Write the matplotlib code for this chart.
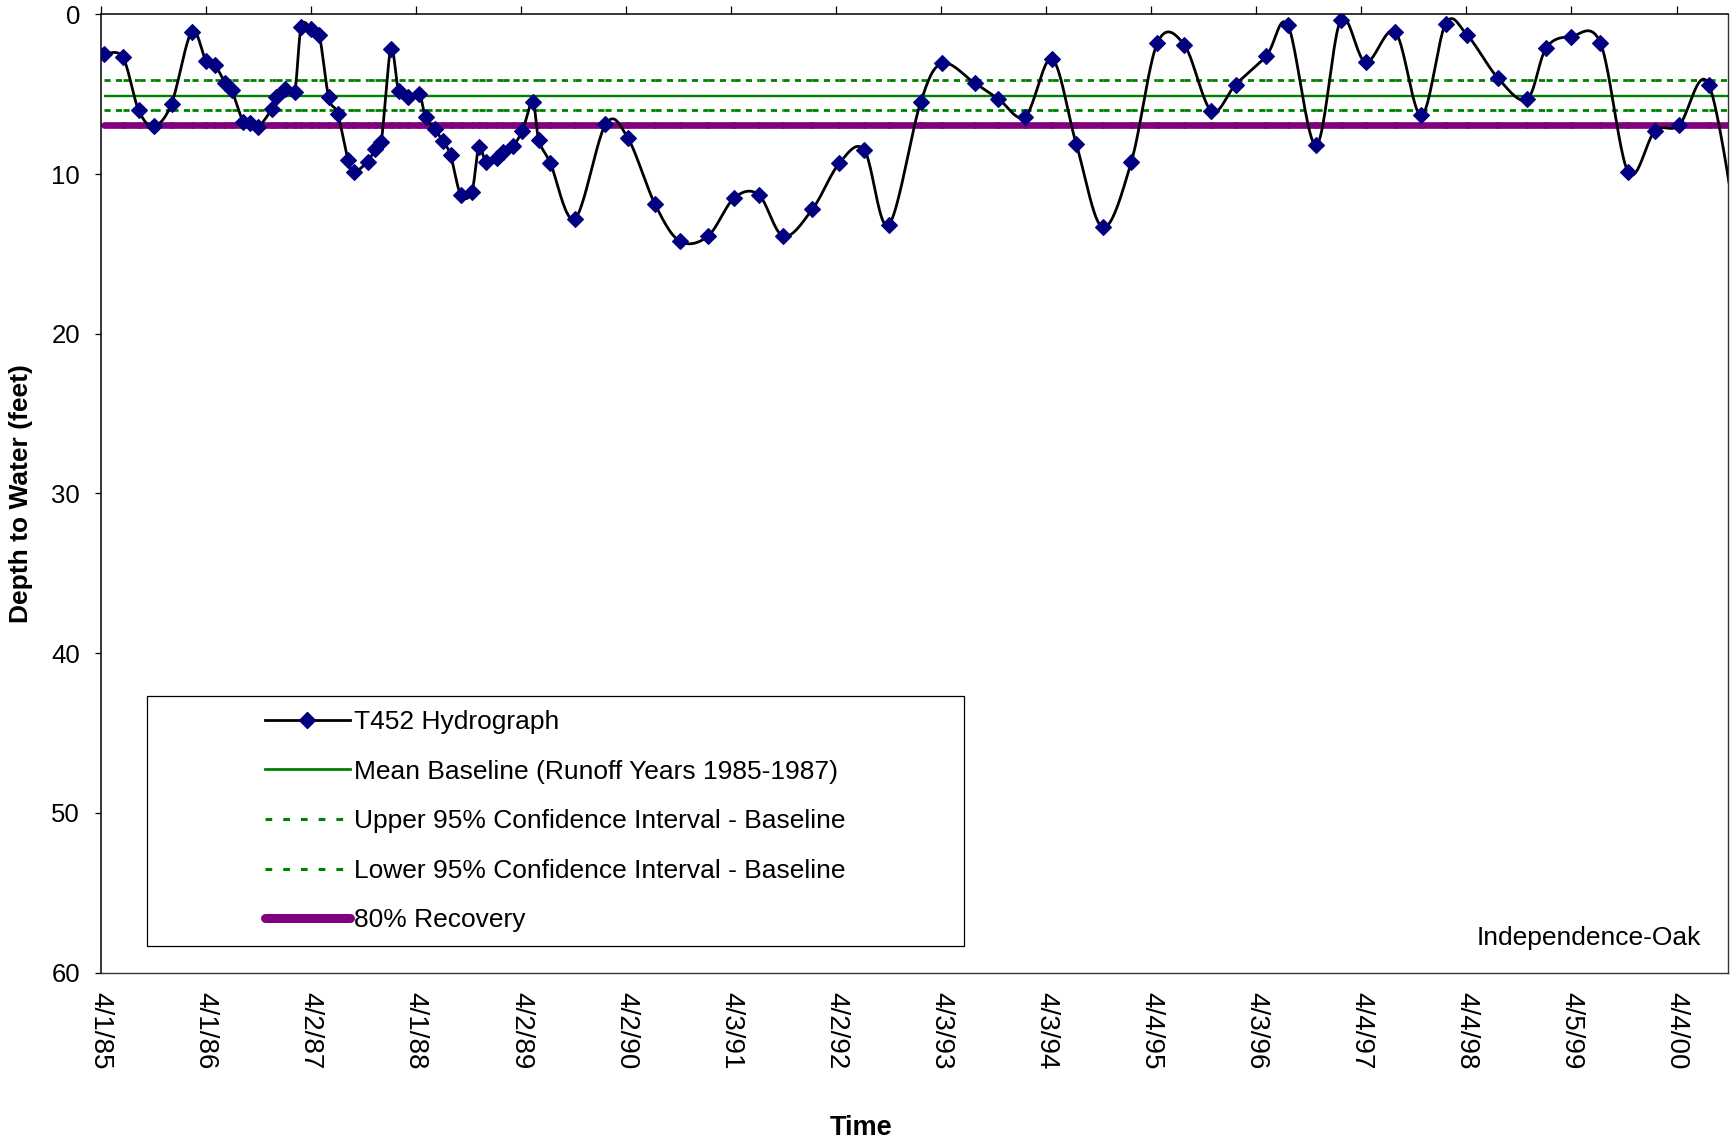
import numpy as np
import matplotlib
matplotlib.use("Agg")
import matplotlib.pyplot as plt
from matplotlib.collections import LineCollection
from matplotlib.lines import Line2D
from matplotlib.patches import Rectangle

plt.rcParams["font.family"] = ["Liberation Sans", "DejaVu Sans"]

t_years = [0.036, 0.211, 0.361, 0.506, 0.674, 0.865, 1.002, 1.090, 1.185, 1.247,
           1.356, 1.425, 1.501, 1.626, 1.668, 1.757, 1.846, 1.909, 2.004, 2.080,
           2.170, 2.256, 2.354, 2.411, 2.542, 2.610, 2.670, 2.761, 2.836, 2.922,
           3.030, 3.093, 3.178, 3.256, 3.330, 3.427, 3.532, 3.600, 3.668, 3.775,
           3.828, 3.920, 4.014, 4.112, 4.171, 4.281, 4.513, 4.805, 5.016, 5.277,
           5.511, 5.779, 6.030, 6.264, 6.499, 6.775, 7.030, 7.268, 7.499, 7.805,
           8.012, 8.318, 8.546, 8.801, 9.055, 9.287, 9.538, 9.810, 10.058, 10.313,
           10.571, 10.803, 11.096, 11.301, 11.568, 11.803, 12.041, 12.322, 12.571, 12.802,
           13.010, 13.301, 13.576, 13.760, 13.994, 14.276, 14.541, 14.795, 15.025, 15.307,
           15.62]
depth = [2.5, 2.7, 6.0, 7.0, 5.6, 1.1, 2.9, 3.2, 4.3, 4.75,
         6.72, 6.8, 7.04, 5.95, 5.2, 4.7, 4.85, 0.77, 0.92, 1.28,
         5.2, 6.23, 9.12, 9.86, 9.22, 8.45, 8.02, 2.2, 4.78, 5.2,
         4.98, 6.45, 7.18, 7.93, 8.82, 11.3, 11.12, 8.3, 9.25, 9.0,
         8.65, 8.27, 7.29, 5.5, 7.9, 9.33, 12.81, 6.9, 7.72, 11.9,
         14.2, 13.9, 11.5, 11.3, 13.9, 12.2, 9.33, 8.5, 13.2, 5.5,
         3.07, 4.3, 5.3, 6.4, 2.8, 8.14, 13.34, 9.25, 1.8, 1.9,
         6.04, 4.4, 2.6, 0.69, 8.2, 0.38, 3.0, 1.1, 6.33, 0.59,
         1.32, 4.0, 5.33, 2.1, 1.4, 1.8, 9.9, 7.3, 6.95, 4.4,
         15.5]

mean_baseline = 5.1
upper_ci = 4.13
lower_ci = 6.01
recovery_80 = 6.93

tick_labels = ["4/1/85", "4/1/86", "4/2/87", "4/1/88", "4/2/89", "4/2/90", "4/3/91",
               "4/2/92", "4/3/93", "4/3/94", "4/4/95", "4/3/96", "4/4/97", "4/4/98",
               "4/5/99", "4/4/00"]

legend_labels = ["T452 Hydrograph",
                 "Mean Baseline (Runoff Years 1985-1987)",
                 "Upper 95% Confidence Interval - Baseline",
                 "Lower 95% Confidence Interval - Baseline",
                 "80% Recovery"]


def smooth_line(x, y, n=24):
    # сглаженная линия как в Excel (Безье через соседние точки)
    pts = np.column_stack([x, y])
    p = np.vstack([pts[0], pts, pts[-1]])
    t = np.linspace(0, 1, n)[:, None]
    out = []
    for i in range(len(pts) - 1):
        p0, p1, p2, p3 = p[i], p[i + 1], p[i + 2], p[i + 3]
        c1 = p1 + (p2 - p0) / 6
        c2 = p2 - (p3 - p1) / 6
        seg = (1 - t) ** 3 * p1 + 3 * (1 - t) ** 2 * t * c1 + 3 * (1 - t) * t ** 2 * c2 + t ** 3 * p2
        out.append(seg if i == 0 else seg[1:])
    out = np.vstack(out)
    return out[:, 0], out[:, 1]


W, H = 1732, 1142
fig = plt.figure(figsize=(W / 100, H / 100), dpi=100)
ax = fig.add_axes([100.7 / W, 1 - 972.5 / H, (1728 - 100.7) / W, (972.5 - 14.3) / H])

x = np.array(t_years)
y = np.array(depth)

green = "#008000"
purple = "#800080"
navy = "#000080"


# baseline lines, one segment per data interval (dash pattern restarts like in Excel)
def level_segments(level):
    return [[(x[i], level), (x[i + 1], level)] for i in range(len(x) - 1)]


ax.add_collection(LineCollection(level_segments(recovery_80), colors=purple,
                                 linewidths=4.8, capstyle="round", zorder=2))
ax.add_collection(LineCollection(level_segments(mean_baseline), colors=green,
                                 linewidths=1.7, zorder=2))
for lvl in (upper_ci, lower_ci):
    lc = LineCollection(level_segments(lvl), colors=green, linewidths=2.0, zorder=2)
    lc.set_linestyle((0, (2.2, 1.9)))
    ax.add_collection(lc)

sx, sy = smooth_line(x, y)
ax.plot(sx, sy, color="black", lw=2.0, zorder=3)
ax.plot(x, y, linestyle="none", marker="D", markersize=8.6, color=navy,
        markeredgecolor=navy, markeredgewidth=0.8, zorder=4)

ax.set_xlim(0, 15.49)
ax.set_ylim(60, 0)
ax.set_yticks(range(0, 61, 10))
ax.set_xticks(range(len(tick_labels)))
ax.set_xticklabels(tick_labels, rotation=270, ha="center", va="top")

ax.tick_params(axis="x", top=True, bottom=False, labeltop=False, labelbottom=True,
               direction="out", length=5.8, width=0.9, pad=8.6, labelsize=20)
ax.tick_params(axis="y", left=True, right=False, direction="out", length=4.3,
               width=0.9, pad=10.5, labelsize=18.5)

for side in ["top", "left"]:
    ax.spines[side].set_linewidth(1.1)
    ax.spines[side].set_color("black")
for side in ["bottom", "right"]:
    ax.spines[side].set_linewidth(1.0)
    ax.spines[side].set_color("#333333")

ax.set_ylabel("Depth to Water (feet)", fontsize=19, fontweight="bold")
ax.yaxis.set_label_coords((33 - 100.7) / (1728 - 100.7), 0.5)

fig.text(861 / W, 1 - 1135 / H, "Time", ha="center", va="baseline",
         fontsize=19.5, fontweight="bold")
fig.text(1701 / W, 1 - 945 / H, "Independence-Oak", ha="right", va="baseline",
         fontsize=19)

# легенда
handles = [
    Line2D([], [], color="black", lw=2.0, marker="D", markersize=8.6,
           markerfacecolor=navy, markeredgecolor=navy),
    Line2D([], [], color=green, lw=2.0),
    Line2D([], [], color=green, lw=2.2, dashes=(2.2, 3.6)),
    Line2D([], [], color=green, lw=2.2, dashes=(2.2, 3.6)),
    Line2D([], [], color=purple, lw=6.5, solid_capstyle="round"),
]
fig.legend(handles, legend_labels, loc="upper left",
           bbox_to_anchor=(265 / W, 1 - 710 / H), frameon=False, fontsize=19,
           borderpad=0, handlelength=3.22, handletextpad=0.15, labelspacing=0.97,
           borderaxespad=0)
fig.patches.append(Rectangle((146.5 / W, 1 - 946 / H), (964.3 - 146.5) / W,
                             (946 - 695.5) / H, transform=fig.transFigure,
                             facecolor="none", edgecolor="black", lw=0.9))

fig.savefig("out.png", dpi=100)
